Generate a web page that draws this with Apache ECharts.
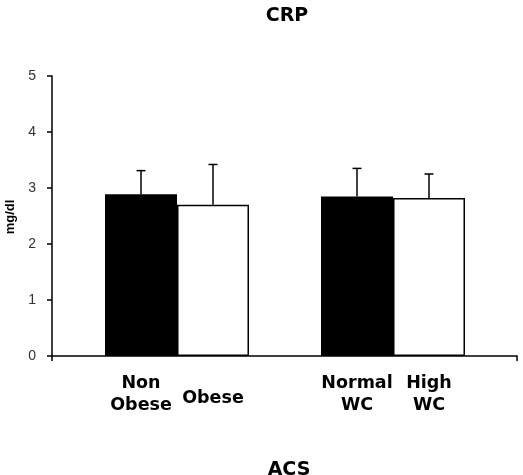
<!DOCTYPE html>
<html>
<head>
<meta charset="utf-8">
<script src="https://cdn.jsdelivr.net/npm/echarts@6/dist/echarts.min.js"></script>
<style>html,body{margin:0;padding:0;background:#fff;}#c{width:523px;height:475px;}</style>
</head>
<body>
<div id="c"></div>
<script>
// ---- data ----
const groups = ['Obesity', 'Waist'];
const labelsFirst = ['Non\nObese', 'Normal\nWC'];
const labelsSecond = ['Obese', 'High\nWC'];
const meanFirst = [2.89, 2.85];
const errFirst = [0.42, 0.50];
const meanSecond = [2.70, 2.82];
const errSecond = [0.72, 0.43];
const yMin = 0, yMax = 5, yStep = 1;
const titleText = 'CRP';
const xTitle = 'ACS';
const yTitle = 'mg/dl';

const chart = echarts.init(document.getElementById('c'), null, {renderer: 'canvas'});

const LBL_FONT = 'DejaVu Sans';
function barData(means, labels) {
  return means.map((v, i) => ({
    value: v,
    label: { distance: labels[i].indexOf('\n') >= 0 ? 38.5 : 42 }
  }));
}
function errData(means, errs) {
  return means.map((v, i) => [i, v, errs[i]]);
}
function errRender(side) {
  return function (params, api) {
    const idx = api.value(0), v = api.value(1), e = api.value(2);
    const half = api.size([1, 0])[0] / 6;
    const base = api.coord([idx, v]);
    const top = api.coord([idx, v + e]);
    const x = base[0] + side * half;
    const cap = 4.5;
    return {
      type: 'group',
      children: [
        {type: 'line', shape: {x1: x, y1: base[1], x2: x, y2: top[1]}, style: {stroke: '#000', lineWidth: 1.5}},
        {type: 'line', shape: {x1: x - cap, y1: top[1], x2: x + cap, y2: top[1]}, style: {stroke: '#000', lineWidth: 1.5}}
      ]
    };
  };
}
const barLabel = (labels) => ({
  show: true,
  position: 'bottom',
  verticalAlign: 'middle',
  formatter: (p) => labels[p.dataIndex],
  fontFamily: LBL_FONT,
  fontWeight: 'bold',
  fontSize: 17.5,
  lineHeight: 22.6,
  color: '#000'
});

const option = {
  animation: false,
  backgroundColor: '#fff',
  title: [
    {text: titleText, left: 282, top: 11, textAlign: 'center', textVerticalAlign: 'middle',
     textStyle: {fontFamily: LBL_FONT, fontWeight: 'bold', fontSize: 19, color: '#000'}},
    {text: xTitle, left: 284, top: 465, textAlign: 'center', textVerticalAlign: 'middle',
     textStyle: {fontFamily: LBL_FONT, fontWeight: 'bold', fontSize: 19, color: '#000'}}
  ],
  graphic: [
    {type: 'text', x: 10, y: 217, rotation: Math.PI / 2,
     style: {text: yTitle, fontFamily: 'Liberation Sans', fontWeight: 'bold', fontSize: 13,
             fill: '#000', align: 'center', verticalAlign: 'middle'}}
  ],
  grid: [
    {left: 52, right: 6, top: 76, bottom: 119, containLabel: false, outerBoundsMode: 'none'},
    {left: 69, right: 22, top: 76, bottom: 119, containLabel: false, outerBoundsMode: 'none'}
  ],
  xAxis: [
    {gridIndex: 0, type: 'value', min: 0, max: 1, interval: 1,
     axisLine: {show: true, lineStyle: {color: '#000', width: 1.5}},
     axisTick: {show: true, length: 5, lineStyle: {color: '#000', width: 1.5}},
     axisLabel: {show: false}, splitLine: {show: false}},
    {gridIndex: 1, type: 'category', data: groups,
     axisLine: {show: false}, axisTick: {show: false}, axisLabel: {show: false}, splitLine: {show: false}}
  ],
  yAxis: [
    {gridIndex: 0, type: 'value', min: yMin, max: yMax, interval: yStep,
     axisLine: {show: true, lineStyle: {color: '#000', width: 1.5}},
     axisTick: {show: true, length: 5, lineStyle: {color: '#000', width: 1.5}},
     axisLabel: {margin: 16, fontFamily: 'Liberation Sans', fontSize: 14, color: '#333'},
     splitLine: {show: false}},
    {gridIndex: 1, type: 'value', min: yMin, max: yMax, interval: yStep, show: false}
  ],
  series: [
    {type: 'bar', xAxisIndex: 1, yAxisIndex: 1, data: barData(meanFirst, labelsFirst),
     barWidth: '33.333%', barGap: '0%',
     itemStyle: {color: '#000', borderColor: '#000', borderWidth: 1.5},
     label: barLabel(labelsFirst)},
    {type: 'bar', xAxisIndex: 1, yAxisIndex: 1, data: barData(meanSecond, labelsSecond),
     barWidth: '33.333%', barGap: '0%',
     itemStyle: {color: '#fff', borderColor: '#000', borderWidth: 1.5},
     label: barLabel(labelsSecond)},
    {type: 'custom', xAxisIndex: 1, yAxisIndex: 1, data: errData(meanFirst, errFirst),
     renderItem: errRender(-1), z: 5, encode: {x: 0, y: 1}},
    {type: 'custom', xAxisIndex: 1, yAxisIndex: 1, data: errData(meanSecond, errSecond),
     renderItem: errRender(1), z: 5, encode: {x: 0, y: 1}}
  ]
};
chart.setOption(option);
</script>
</body>
</html>
